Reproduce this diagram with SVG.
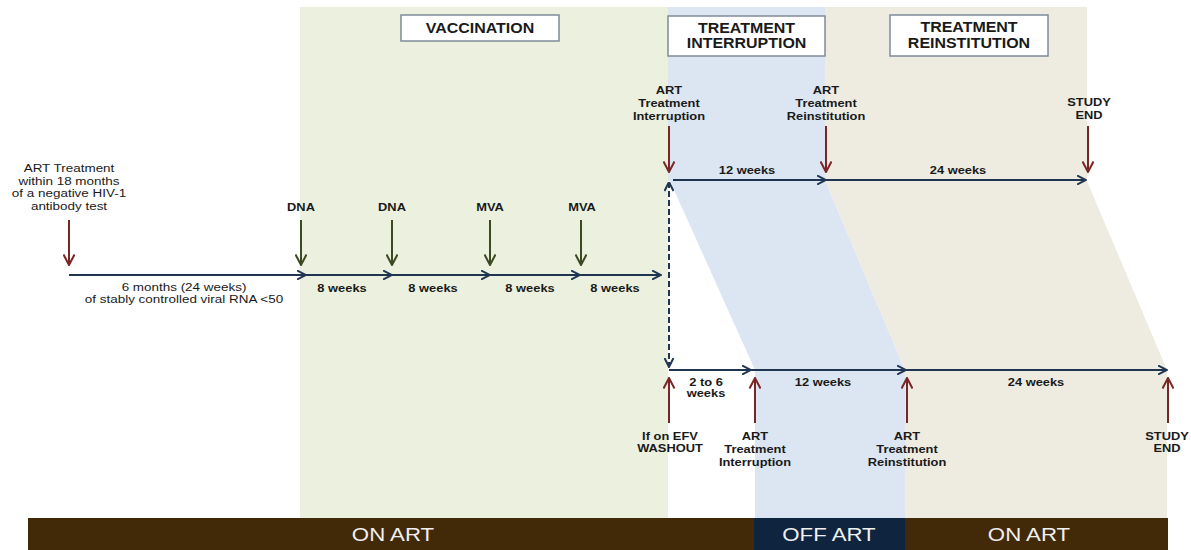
<svg xmlns="http://www.w3.org/2000/svg" width="1191" height="550" viewBox="0 0 1191 550">
<style>
.t{font-family:"Liberation Sans",Arial,sans-serif;font-size:11px;font-weight:bold;fill:#1a1a1a;text-anchor:middle;transform:scaleX(1.17)}
.r{font-weight:normal;font-size:11.5px}
.h{font-size:14px;transform:scaleX(1.14)}
.bt{font-family:"Liberation Sans",Arial,sans-serif;font-size:19px;fill:#f0f0f0;text-anchor:middle;transform:scaleX(1.17)}
.box{fill:#ffffff;stroke:#7f8b99;stroke-width:1.5}
.nv{stroke:#1f3552;stroke-width:2;fill:none}
.rd{stroke:#7a2626;stroke-width:2;fill:none}
.ol{stroke:#3c4a22;stroke-width:2;fill:none}
</style>
<defs>
<marker id="an" viewBox="0 0 10 10" refX="9.5" refY="5" markerWidth="10" markerHeight="10" markerUnits="userSpaceOnUse" orient="auto-start-reverse"><path d="M0.5,0.5 L9.5,5 L0.5,9.5" fill="none" stroke="#1f3552" stroke-width="2"/></marker>
<marker id="ar" viewBox="0 0 12 12" refX="11" refY="6" markerWidth="12" markerHeight="12" markerUnits="userSpaceOnUse" orient="auto"><path d="M0.5,0.5 L11,6 L0.5,11.5" fill="none" stroke="#7a2626" stroke-width="2"/></marker>
<marker id="ao" viewBox="0 0 12 12" refX="11" refY="6" markerWidth="12" markerHeight="12" markerUnits="userSpaceOnUse" orient="auto"><path d="M0.5,0.5 L11,6 L0.5,11.5" fill="none" stroke="#3c4a22" stroke-width="2"/></marker>
</defs>

<g id="phases">
<rect x="300" y="7" width="368" height="511" fill="#EBF1DE"/>
<polygon points="668,7 825,7 825,180 905,370 905,518 755,518 755,370 670,181 668,181" fill="#DCE6F2"/>
<polygon points="825,7 1087,7 1087,181 1167,370 1167,518 905,518 905,370 825,180" fill="#EEECE1"/>
</g>

<g id="art-bar">
<rect x="28" y="518" width="1140" height="32" fill="#422a08"/>
<rect x="754" y="518" width="151" height="32" fill="#0f243e"/>
<g transform="translate(393,541)"><text class="bt">ON ART</text></g>
<g transform="translate(829,541)"><text class="bt">OFF ART</text></g>
<g transform="translate(1029,541)"><text class="bt">ON ART</text></g>
</g>

<g id="hdr-vaccination">
<rect class="box" x="401" y="15" width="158" height="26"/>
<g transform="translate(480,33)"><text class="t h">VACCINATION</text></g>
</g>
<g id="hdr-interruption">
<rect class="box" x="668" y="16" width="157" height="40"/>
<g transform="translate(746.5,33)"><text class="t h"><tspan x="0">TREATMENT</tspan><tspan x="0" dy="15">INTERRUPTION</tspan></text></g>
</g>
<g id="hdr-reinstitution">
<rect class="box" x="890" y="15" width="158" height="41"/>
<g transform="translate(969,32)"><text class="t h"><tspan x="0">TREATMENT</tspan><tspan x="0" dy="16">REINSTITUTION</tspan></text></g>
</g>

<g id="connectors">
<line class="nv" x1="69" y1="275" x2="306" y2="275" marker-end="url(#an)"/>
<line class="nv" x1="306" y1="275" x2="392" y2="275" marker-end="url(#an)"/>
<line class="nv" x1="392" y1="275" x2="490" y2="275" marker-end="url(#an)"/>
<line class="nv" x1="490" y1="275" x2="580" y2="275" marker-end="url(#an)"/>
<line class="nv" x1="580" y1="275" x2="661" y2="275" marker-end="url(#an)"/>
<line class="nv" x1="673" y1="180" x2="826" y2="180" marker-end="url(#an)"/>
<line class="nv" x1="826" y1="180" x2="1086" y2="180" marker-end="url(#an)"/>
<line class="nv" x1="669" y1="370" x2="751" y2="370" marker-end="url(#an)"/>
<line class="nv" x1="751" y1="370" x2="906" y2="370" marker-end="url(#an)"/>
<line class="nv" x1="906" y1="370" x2="1167" y2="370" marker-end="url(#an)"/>
<line class="nv" x1="669" y1="182" x2="669" y2="367" stroke-dasharray="6 3" marker-start="url(#an)" marker-end="url(#an)"/>
<line class="rd" x1="69" y1="220" x2="69" y2="265" marker-end="url(#ar)"/>
<line class="rd" x1="669" y1="126" x2="669" y2="172" marker-end="url(#ar)"/>
<line class="rd" x1="826" y1="126" x2="826" y2="172" marker-end="url(#ar)"/>
<line class="rd" x1="1088" y1="126" x2="1088" y2="172" marker-end="url(#ar)"/>
<line class="ol" x1="301" y1="220" x2="301" y2="265" marker-end="url(#ao)"/>
<line class="ol" x1="392" y1="220" x2="392" y2="265" marker-end="url(#ao)"/>
<line class="ol" x1="490" y1="220" x2="490" y2="265" marker-end="url(#ao)"/>
<line class="ol" x1="581" y1="220" x2="581" y2="265" marker-end="url(#ao)"/>
<line class="rd" x1="669" y1="423" x2="669" y2="378" marker-end="url(#ar)"/>
<line class="rd" x1="755" y1="423" x2="755" y2="378" marker-end="url(#ar)"/>
<line class="rd" x1="907" y1="423" x2="907" y2="378" marker-end="url(#ar)"/>
<line class="rd" x1="1168" y1="423" x2="1168" y2="378" marker-end="url(#ar)"/>
</g>

<g id="start-event">
<g transform="translate(69,172)"><text class="t r"><tspan x="0">ART Treatment</tspan><tspan x="0" dy="12.6">within 18 months</tspan><tspan x="0" dy="12.6">of a negative HIV-1</tspan><tspan x="0" dy="12.6">antibody test</tspan></text></g>
</g>
<g id="baseline-period">
<g transform="translate(184,291)"><text class="t r"><tspan x="0">6 months (24 weeks)</tspan><tspan x="0" dy="12.5">of stably controlled viral RNA &lt;50</tspan></text></g>
</g>
<g id="vacc-1"><g transform="translate(301,211)"><text class="t">DNA</text></g></g>
<g id="vacc-2"><g transform="translate(392,211)"><text class="t">DNA</text></g></g>
<g id="vacc-3"><g transform="translate(490,211)"><text class="t">MVA</text></g></g>
<g id="vacc-4"><g transform="translate(582,211)"><text class="t">MVA</text></g></g>
<g id="vacc-intervals">
<g transform="translate(342,292)"><text class="t">8 weeks</text></g>
<g transform="translate(433,292)"><text class="t">8 weeks</text></g>
<g transform="translate(530,292)"><text class="t">8 weeks</text></g>
<g transform="translate(615,292)"><text class="t">8 weeks</text></g>
</g>

<g id="ti-top"><g transform="translate(669,94)"><text class="t"><tspan x="0">ART</tspan><tspan x="0" dy="13">Treatment</tspan><tspan x="0" dy="13">Interruption</tspan></text></g></g>
<g id="tr-top"><g transform="translate(826,94)"><text class="t"><tspan x="0">ART</tspan><tspan x="0" dy="13">Treatment</tspan><tspan x="0" dy="13">Reinstitution</tspan></text></g></g>
<g id="end-top"><g transform="translate(1089,106)"><text class="t"><tspan x="0">STUDY</tspan><tspan x="0" dy="13">END</tspan></text></g></g>
<g id="top-intervals">
<g transform="translate(747,174)"><text class="t">12 weeks</text></g>
<g transform="translate(958,174)"><text class="t">24 weeks</text></g>
</g>

<g id="bottom-intervals">
<g transform="translate(706,386)"><text class="t"><tspan x="0">2 to 6</tspan><tspan x="0" dy="11.5">weeks</tspan></text></g>
<g transform="translate(823,386)"><text class="t">12 weeks</text></g>
<g transform="translate(1036,386)"><text class="t">24 weeks</text></g>
</g>
<g id="washout"><g transform="translate(670,440)"><text class="t"><tspan x="0">If on EFV</tspan><tspan x="0" dy="12.5">WASHOUT</tspan></text></g></g>
<g id="ti-bottom"><g transform="translate(755,440)"><text class="t"><tspan x="0">ART</tspan><tspan x="0" dy="13">Treatment</tspan><tspan x="0" dy="13">Interruption</tspan></text></g></g>
<g id="tr-bottom"><g transform="translate(907,440)"><text class="t"><tspan x="0">ART</tspan><tspan x="0" dy="13">Treatment</tspan><tspan x="0" dy="13">Reinstitution</tspan></text></g></g>
<g id="end-bottom"><g transform="translate(1167,440)"><text class="t"><tspan x="0">STUDY</tspan><tspan x="0" dy="12.5">END</tspan></text></g></g>
</svg>
